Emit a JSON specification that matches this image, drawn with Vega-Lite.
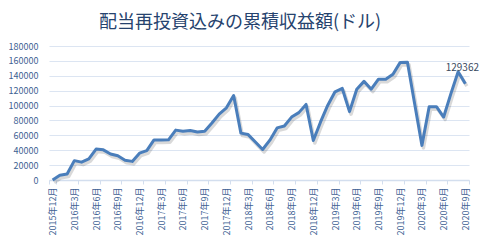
{
  "$schema": "https://vega.github.io/schema/vega-lite/v6.json",
  "autosize": "none",
  "width": 420,
  "height": 134,
  "padding": {"left": 49, "top": 46, "right": 11, "bottom": 65},
  "background": "white",
  "title": {
    "text": "配当再投資込みの累積収益額(ドル)",
    "font": "Noto Sans CJK JP",
    "fontSize": 18,
    "fontWeight": "normal",
    "color": "#26436E",
    "anchor": "middle",
    "dx": -19,
    "offset": 10
  },
  "data": {
    "values": [
      {"month": "2015年12月", "value": 0},
      {"month": "2016年1月", "value": 6500},
      {"month": "2016年2月", "value": 8000},
      {"month": "2016年3月", "value": 26000},
      {"month": "2016年4月", "value": 24000},
      {"month": "2016年5月", "value": 28500},
      {"month": "2016年6月", "value": 41500},
      {"month": "2016年7月", "value": 40500},
      {"month": "2016年8月", "value": 35000},
      {"month": "2016年9月", "value": 32500},
      {"month": "2016年10月", "value": 26500},
      {"month": "2016年11月", "value": 25000},
      {"month": "2016年12月", "value": 36000},
      {"month": "2017年1月", "value": 39500},
      {"month": "2017年2月", "value": 53800},
      {"month": "2017年3月", "value": 53800},
      {"month": "2017年4月", "value": 54000},
      {"month": "2017年5月", "value": 67000},
      {"month": "2017年6月", "value": 65500},
      {"month": "2017年7月", "value": 66500},
      {"month": "2017年8月", "value": 64500},
      {"month": "2017年9月", "value": 65500},
      {"month": "2017年10月", "value": 76500},
      {"month": "2017年11月", "value": 88500},
      {"month": "2017年12月", "value": 97000},
      {"month": "2018年1月", "value": 113500},
      {"month": "2018年2月", "value": 63000},
      {"month": "2018年3月", "value": 61000},
      {"month": "2018年4月", "value": 51000},
      {"month": "2018年5月", "value": 41000},
      {"month": "2018年6月", "value": 53500},
      {"month": "2018年7月", "value": 70000},
      {"month": "2018年8月", "value": 72500},
      {"month": "2018年9月", "value": 84500},
      {"month": "2018年10月", "value": 90500},
      {"month": "2018年11月", "value": 101500},
      {"month": "2018年12月", "value": 53000},
      {"month": "2019年1月", "value": 78000},
      {"month": "2019年2月", "value": 100500},
      {"month": "2019年3月", "value": 118500},
      {"month": "2019年4月", "value": 123000},
      {"month": "2019年5月", "value": 91800},
      {"month": "2019年6月", "value": 122000},
      {"month": "2019年7月", "value": 132500},
      {"month": "2019年8月", "value": 122000},
      {"month": "2019年9月", "value": 135500},
      {"month": "2019年10月", "value": 135200},
      {"month": "2019年11月", "value": 142000},
      {"month": "2019年12月", "value": 158000},
      {"month": "2020年1月", "value": 158300},
      {"month": "2020年2月", "value": 102000},
      {"month": "2020年3月", "value": 46500},
      {"month": "2020年4月", "value": 98500},
      {"month": "2020年5月", "value": 98500},
      {"month": "2020年6月", "value": 84600},
      {"month": "2020年7月", "value": 116000},
      {"month": "2020年8月", "value": 145300},
      {"month": "2020年9月", "value": 129362, "label": "129362"}
    ]
  },
  "encoding": {
    "x": {
      "field": "month",
      "type": "ordinal",
      "sort": null,
      "scale": {"type": "band", "paddingInner": 0, "paddingOuter": 0},
      "axis": {
        "title": null,
        "values": ["2015年12月","2016年3月","2016年6月","2016年9月","2016年12月","2017年3月","2017年6月","2017年9月","2017年12月","2018年3月","2018年6月","2018年9月","2018年12月","2019年3月","2019年6月","2019年9月","2019年12月","2020年3月","2020年6月","2020年9月"],
        "labelAngle": -90,
        "labelFont": "Noto Sans CJK JP",
        "labelFontSize": 9,
        "labelColor": "#3E5F93",
        "labelPadding": 3,
        "tickBand": "extent",
        "tickSize": 4,
        "tickColor": "#D3DEEE",
        "domainColor": "#D3DEEE",
        "domainWidth": 1.5,
        "grid": false
      }
    },
    "y": {
      "field": "value",
      "type": "quantitative",
      "scale": {"domain": [0, 180000], "nice": false},
      "axis": {
        "title": null,
        "values": [0,20000,40000,60000,80000,100000,120000,140000,160000,180000],
        "format": "d",
        "labelFont": "Noto Sans CJK JP",
        "labelFontSize": 9,
        "labelColor": "#3E5F93",
        "labelPadding": 11,
        "ticks": false,
        "domain": false,
        "grid": true,
        "gridColor": "#DCE5F2",
        "gridWidth": 1.2
      }
    }
  },
  "layer": [
    {
      "mark": {"type": "line", "color": "#000000", "opacity": 0.15, "strokeWidth": 3.5, "xOffset": 1.5, "yOffset": 2.5, "strokeJoin": "round"}
    },
    {
      "mark": {"type": "line", "color": "#4A7EBB", "strokeWidth": 3, "strokeJoin": "round"}
    },
    {
      "transform": [{"filter": "datum.label != null"}],
      "mark": {"type": "text", "font": "Noto Sans CJK JP", "fontSize": 10, "color": "#3A4A60", "dy": -16, "dx": -3},
      "encoding": {"text": {"field": "label"}}
    }
  ],
  "config": {"view": {"stroke": null}}
}
